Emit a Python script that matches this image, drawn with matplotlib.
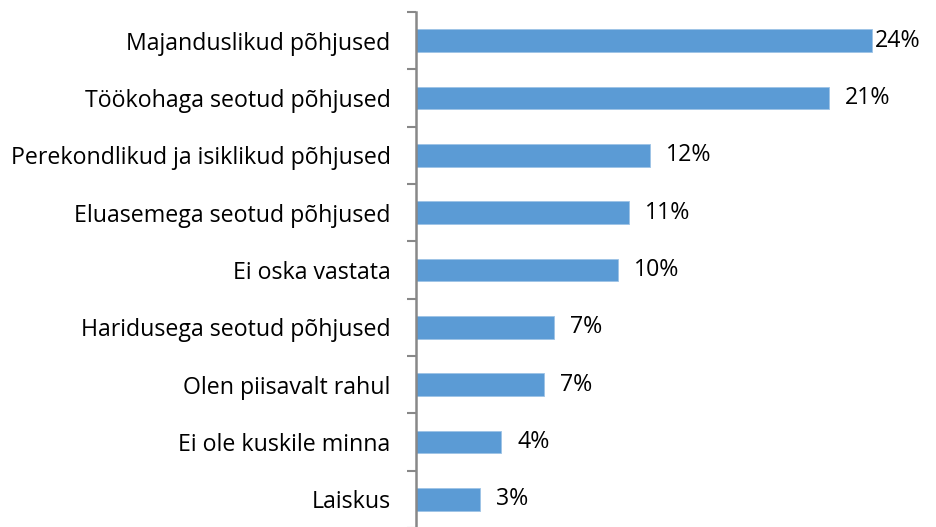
import matplotlib
matplotlib.use("Agg")
import matplotlib.pyplot as plt

categories = [
    "Majanduslikud põhjused",
    "Töökohaga seotud põhjused",
    "Perekondlikud ja isiklikud põhjused",
    "Eluasemega seotud põhjused",
    "Ei oska vastata",
    "Haridusega seotud põhjused",
    "Olen piisavalt rahul",
    "Ei ole kuskile minna",
    "Laiskus",
]
values = [23.6, 21.4, 12.1, 11.0, 10.45, 7.15, 6.6, 4.4, 3.3]
labels = ["24%", "21%", "12%", "11%", "10%", "7%", "7%", "4%", "3%"]

W, H = 937, 527
fig = plt.figure(figsize=(W / 100, H / 100), dpi=100)
plt.rcParams["font.family"] = ["Open Sans", "DejaVu Sans"]

left, top, bottom, right = 416.3, 12, 528, 935
ax = fig.add_axes([left / W, 1 - bottom / H, (right - left) / W, (bottom - top) / H])
ax.patch.set_alpha(0)

px_per_unit = 19.3
ax.set_xlim(0, (right - left) / px_per_unit)
n = len(categories)
ax.set_ylim(n - 0.5, -0.5)

ypos = list(range(n))
ax.barh(ypos, values, height=0.39, color="#5B9BD5", edgecolor="#9DC3E6", linewidth=0.6)

ax.set_yticks([i - 0.5 for i in range(n)] + [n - 0.5])
ax.set_yticklabels([])
ax.set_yticks(ypos, minor=True)
fs = 16.7
ax.set_yticklabels(categories, minor=True, fontsize=fs, color="#000000")
ax.tick_params(axis="y", which="minor", length=0, pad=18.5)
ax.tick_params(axis="y", which="major", length=6.5, width=1.5, color="#888888", direction="out")
ax.set_xticks([])

for s in ["top", "right", "bottom"]:
    ax.spines[s].set_visible(False)
ax.spines["left"].set_color("#888888")
ax.spines["left"].set_linewidth(1.8)

xmax = ax.get_xlim()[1]
gap = 16 / px_per_unit
for y, v, lab in zip(ypos, values, labels):
    x = min(v + gap, xmax - 60 / px_per_unit)
    ax.text(x, y, lab, va="center", ha="left", fontsize=fs, color="#000000")

fig.savefig("out.png", dpi=100)
